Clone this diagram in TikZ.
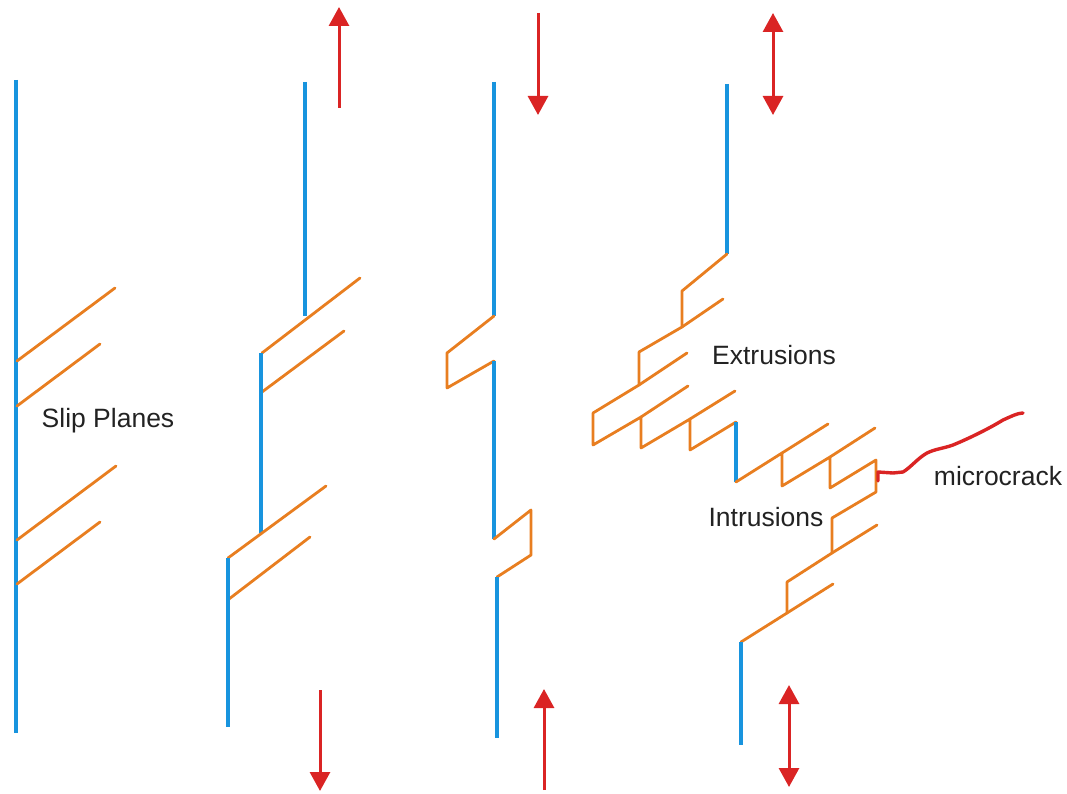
\documentclass[tikz,border=0pt]{standalone}
\usepackage{fontspec}
\setmainfont{Liberation Sans}
\usetikzlibrary{arrows.meta}
\definecolor{crystal}{RGB}{24,148,222}
\definecolor{slipband}{RGB}{232,126,32}
\definecolor{loadred}{RGB}{218,36,36}
\definecolor{labelgrey}{RGB}{34,34,34}
\tikzset{
  grain/.style={draw=crystal, line width=3.6pt},
  slipline/.style={draw=slipband, line width=2.8pt, line join=round, line cap=round},
  load/.style={draw=loadred, line width=3pt, -{Triangle[width=20pt,length=19pt]}},
  loadboth/.style={draw=loadred, line width=3pt, {Triangle[width=20pt,length=19pt]}-{Triangle[width=20pt,length=19pt]}},
  crack/.style={draw=loadred, line width=3.4pt, line join=round, line cap=round},
  caption/.style={text=labelgrey, font=\fontsize{26.5}{30}\selectfont, inner sep=0pt}
}
\begin{document}
\begin{tikzpicture}[x=1pt, y=-1pt]
\useasboundingbox (0,0) rectangle (1067,794);

% --- 1: undeformed grain with slip planes
\draw[grain] (16,80) -- (16,733);
\draw[slipline] (17,361) -- (115,288);
\draw[slipline] (17,406) -- (100,344);
\draw[slipline] (17,540) -- (116,466);
\draw[slipline] (17,584) -- (100,522);
\node[caption] (slip) at (108,421) {Slip Planes};

% --- 2: tension, slip steps
\draw[grain] (305,82) -- (305,316);
\draw[slipline] (262,353) -- (360,278);
\draw[slipline] (262,392) -- (344,331);
\draw[grain] (261,353) -- (261,533);
\draw[slipline] (228,558) -- (326,486);
\draw[slipline] (229,599) -- (310,537);
\draw[grain] (228,558) -- (228,727);
\coordinate (t2a) at (339,108); \coordinate (t2b) at (339,7);
\coordinate (b2a) at (320,690); \coordinate (b2b) at (320,791);
\draw[load] (t2a) -- (t2b);
\draw[load] (b2a) -- (b2b);

% --- 3: compression, reversed steps
\draw[grain] (494,82) -- (494,316);
\draw[slipline] (494,316) -- (447,353) -- (447,388) -- (494,361);
\draw[grain] (494,361) -- (494,539);
\draw[slipline] (494,539) -- (531,510) -- (531,555) -- (497,577);
\draw[grain] (497,577) -- (497,738);
\coordinate (t3a) at (538,13); \coordinate (t3b) at (538,115);
\coordinate (b3a) at (544,790); \coordinate (b3b) at (544,689);
\draw[load] (t3a) -- (t3b);
\draw[load] (b3a) -- (b3b);

% --- 4: cyclic loading, extrusions and intrusions
\draw[grain] (727,84) -- (727,254);
\draw[slipline] (727,254) -- (682,291) -- (682,327) -- (639,352) -- (639,385)
  -- (593,413) -- (593,445) -- (641,417) -- (641,448) -- (690,419) -- (690,450)
  -- (736,422);
\draw[slipline] (682,327) -- (723,299);
\draw[slipline] (639,385) -- (687,353);
\draw[slipline] (641,417) -- (688,386);
\draw[slipline] (690,419) -- (735,391);
\draw[grain] (736,422) -- (736,482);
\draw[slipline] (736,482) -- (782,453) -- (782,486) -- (830,457) -- (830,488)
  -- (876,460) -- (876,492) -- (832,518) -- (832,553) -- (787,582) -- (787,613)
  -- (741,642);
\draw[slipline] (782,453) -- (828,424);
\draw[slipline] (830,457) -- (875,428);
\draw[slipline] (832,553) -- (877,525);
\draw[slipline] (787,613) -- (833,584);
\draw[grain] (741,642) -- (741,745);
\draw[crack] (878,481) -- (878,472) -- (893,473) -- (903,472)
  .. controls (910,468) and (918,458) .. (927,453)
  .. controls (935,449) and (945,448) .. (953,445)
  .. controls (970,438) and (990,428) .. (1003,420)
  .. controls (1012,416) and (1018,413) .. (1023,413);
\coordinate (t4a) at (773,13); \coordinate (t4b) at (773,115);
\coordinate (b4a) at (789,685); \coordinate (b4b) at (789,787);
\draw[loadboth] (t4a) -- (t4b);
\draw[loadboth] (b4a) -- (b4b);

\node[caption] (extr) at (774,355) {Extrusions};
\node[caption] (intr) at (766,517) {Intrusions};
\node[caption] (micro) at (998,476) {microcrack};
\end{tikzpicture}
\end{document}
